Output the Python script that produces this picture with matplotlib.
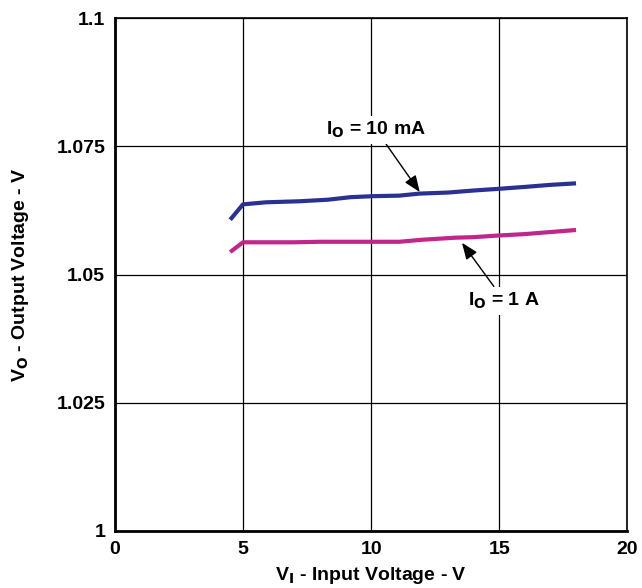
import matplotlib.pyplot as plt

plt.rcParams['font.family'] = ['Liberation Sans', 'DejaVu Sans']
plt.rcParams['font.weight'] = 'bold'

# I_O = 10 mA
vin_10ma = [4.5, 5.0, 5.9, 7.2, 8.3, 9.2, 10.1, 11.1, 11.9, 13.0, 14.0, 14.9, 16.0, 17.0, 18.0]
vout_10ma = [1.0607, 1.0637, 1.0641, 1.0643, 1.0646, 1.0651, 1.0653, 1.0654, 1.0658,
             1.0660, 1.0664, 1.0667, 1.0671, 1.0675, 1.0678]

# I_O = 1 A
vin_1a = [4.5, 5.0, 6.0, 7.0, 8.0, 9.0, 10.3, 11.1, 12.0, 13.3, 14.0, 14.9, 16.0, 17.0, 18.0]
vout_1a = [1.0544, 1.0563, 1.0563, 1.0563, 1.0564, 1.0564, 1.0564, 1.0564, 1.0568,
           1.0572, 1.0573, 1.0576, 1.0579, 1.0583, 1.0587]

xticks = [0, 5, 10, 15, 20]
yticks = [1, 1.025, 1.05, 1.075, 1.1]
ytick_labels = ['1', '1.025', '1.05', '1.075', '1.1']

fig = plt.figure(figsize=(6.42, 5.88), dpi=100)
ax = fig.add_axes([0.179, 0.097, 0.798, 0.872])

ax.plot(vin_10ma, vout_10ma, color='#2b3192', lw=3, solid_capstyle='butt', zorder=3)
ax.plot(vin_1a, vout_1a, color='#c0268b', lw=3, solid_capstyle='butt', zorder=3)

ax.set_xlim(0, 20)
ax.set_ylim(1, 1.1)
ax.set_xticks(xticks)
ax.set_yticks(yticks)
ax.set_yticklabels(ytick_labels)
ax.grid(True, color='black', lw=0.9)
ax.tick_params(length=0, labelsize=14, pad=7)
for lab in ax.get_xticklabels() + ax.get_yticklabels():
    lab.set_fontweight('bold')
for s in ax.spines.values():
    s.set_linewidth(1.2)
ax.spines['left'].set_linewidth(2)
ax.spines['bottom'].set_linewidth(2)

ax.set_xlabel(r'V$_\mathbf{I}$ - Input Voltage - V', fontsize=14, fontweight='bold', labelpad=5)
ax.set_ylabel(r'V$_\mathbf{O}$ - Output Voltage - V', fontsize=14, fontweight='bold', labelpad=18)

box = dict(facecolor='white', edgecolor='none', pad=3)
ax.annotate(r'I$_\mathbf{O}$ = 10 mA', xy=(11.9, 1.0661), xytext=(10.2, 1.0782),
            fontsize=14, fontweight='bold', ha='center', va='center', bbox=box,
            arrowprops=dict(arrowstyle='-|>,head_length=0.5,head_width=0.2', color='black',
                            lw=1, mutation_scale=20, shrinkA=0, shrinkB=0), zorder=4)
ax.annotate(r'I$_\mathbf{O}$ = 1 A', xy=(13.55, 1.0562), xytext=(15.2, 1.0449),
            fontsize=14, fontweight='bold', ha='center', va='center', bbox=box,
            arrowprops=dict(arrowstyle='-|>,head_length=0.5,head_width=0.2', color='black',
                            lw=1, mutation_scale=20, shrinkA=0, shrinkB=0), zorder=4)

fig.savefig('out.png', dpi=100)
